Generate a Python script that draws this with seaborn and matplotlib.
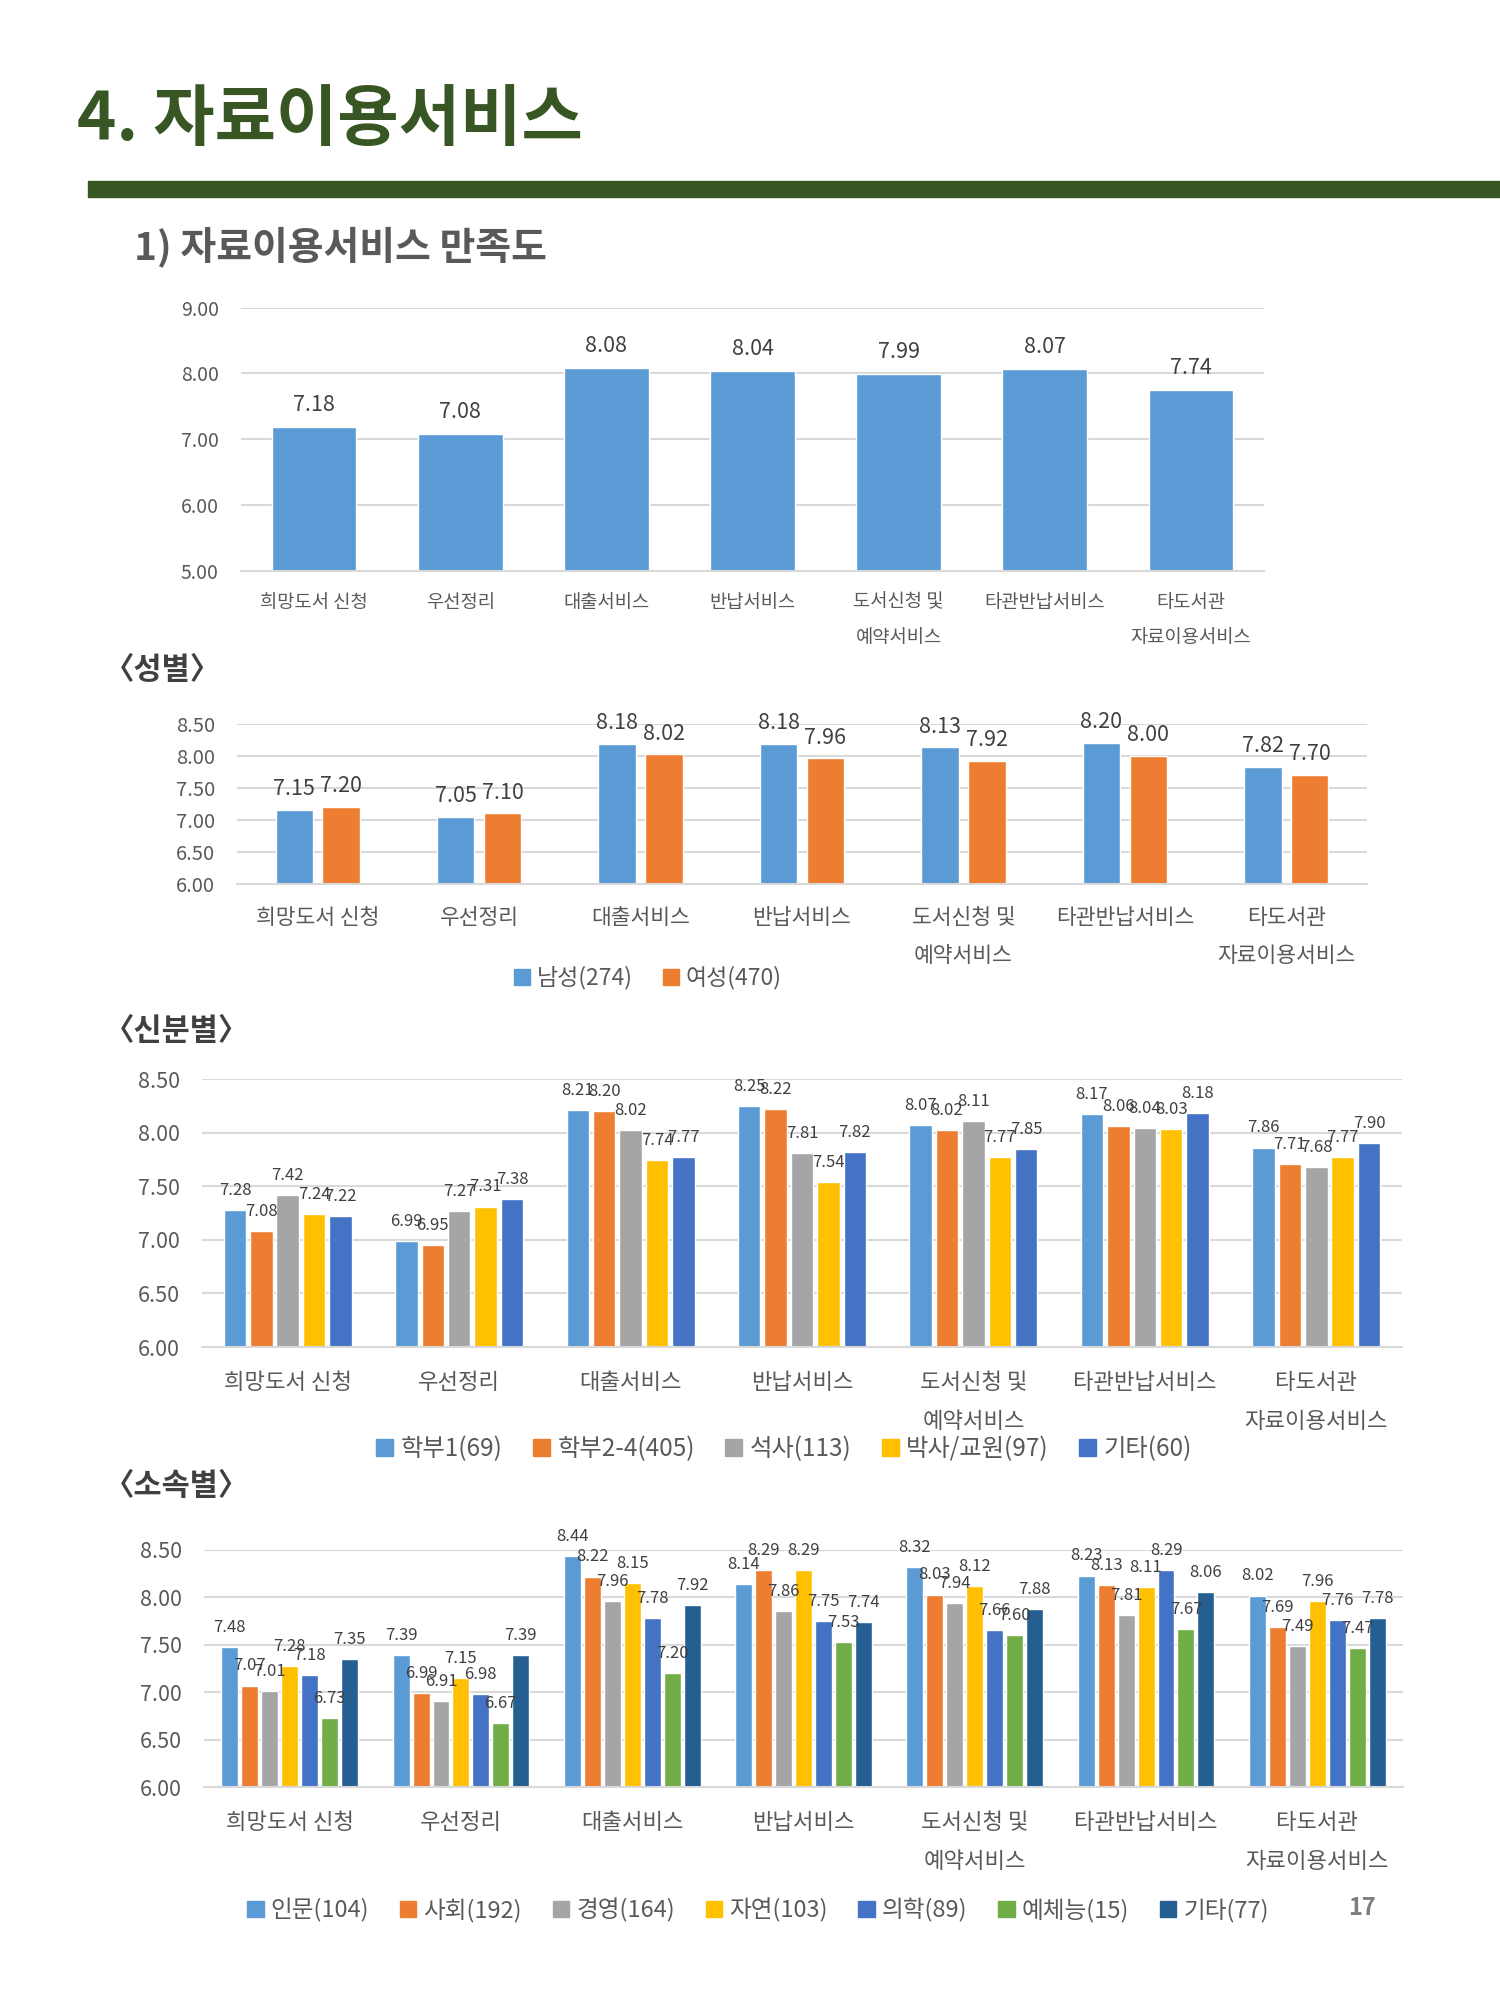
import matplotlib
matplotlib.use("Agg")
import matplotlib.pyplot as plt
from matplotlib.patches import Rectangle, Patch
import pandas as pd
import seaborn as sns

# 항목
services = ["희망도서 신청", "우선정리", "대출서비스", "반납서비스",
            "도서신청 및\n예약서비스", "타관반납서비스", "타도서관\n자료이용서비스"]

# 1) 전체 만족도
overall = [7.18, 7.08, 8.08, 8.04, 7.99, 8.07, 7.74]

# 성별
gender_groups = ["남성(274)", "여성(470)"]
gender_vals = {
    "남성(274)": [7.15, 7.05, 8.18, 8.18, 8.13, 8.20, 7.82],
    "여성(470)": [7.20, 7.10, 8.02, 7.96, 7.92, 8.00, 7.70],
}

# 신분별
status_groups = ["학부1(69)", "학부2-4(405)", "석사(113)", "박사/교원(97)", "기타(60)"]
status_vals = {
    "학부1(69)": [7.28, 6.99, 8.21, 8.25, 8.07, 8.17, 7.86],
    "학부2-4(405)": [7.08, 6.95, 8.20, 8.22, 8.02, 8.06, 7.71],
    "석사(113)": [7.42, 7.27, 8.02, 7.81, 8.11, 8.04, 7.68],
    "박사/교원(97)": [7.24, 7.31, 7.74, 7.54, 7.77, 8.03, 7.77],
    "기타(60)": [7.22, 7.38, 7.77, 7.82, 7.85, 8.18, 7.90],
}

# 소속별
dept_groups = ["인문(104)", "사회(192)", "경영(164)", "자연(103)", "의학(89)", "예체능(15)", "기타(77)"]
dept_vals = {
    "인문(104)": [7.48, 7.39, 8.44, 8.14, 8.32, 8.23, 8.02],
    "사회(192)": [7.07, 6.99, 8.22, 8.29, 8.03, 8.13, 7.69],
    "경영(164)": [7.01, 6.91, 7.96, 7.86, 7.94, 7.81, 7.49],
    "자연(103)": [7.28, 7.15, 8.15, 8.29, 8.12, 8.11, 7.96],
    "의학(89)": [7.18, 6.98, 7.78, 7.75, 7.66, 8.29, 7.76],
    "예체능(15)": [6.73, 6.67, 7.20, 7.53, 7.60, 7.67, 7.47],
    "기타(77)": [7.35, 7.39, 7.92, 7.74, 7.88, 8.06, 7.78],
}

colors = ["#5B9BD5", "#ED7D31", "#A5A5A5", "#FFC000", "#4472C4", "#70AD47", "#255E91"]

sns.set_theme(style="white")
FONT = ["Noto Sans CJK KR", "DejaVu Sans"]
plt.rcParams["font.family"] = FONT

GRID = "#D9D9D9"
TICK = "#595959"
LABEL = "#404040"


def long_df(groups, vals):
    rows = []
    for g in groups:
        for s, v in zip(services, vals[g]):
            rows.append({"항목": s, "그룹": g, "점수": v})
    return pd.DataFrame(rows)


def style_axis(ax, ylim, step, tick_fs, cat_fs, cat_pad):
    ax.set_ylim(*ylim)
    ticks = []
    t = ylim[0]
    while t <= ylim[1] + 1e-9:
        ticks.append(round(t, 2))
        t += step
    ax.set_yticks(ticks)
    ax.set_yticklabels([f"{t:.2f}" for t in ticks], fontsize=tick_fs, color=TICK)
    ax.set_xlim(-0.5, len(services) - 0.5)
    ax.set_xlabel("")
    ax.set_ylabel("")
    for sp in ["top", "left", "right"]:
        ax.spines[sp].set_visible(False)
    ax.spines["bottom"].set_color(GRID)
    ax.spines["bottom"].set_linewidth(1.5)
    ax.yaxis.grid(True, color=GRID, linewidth=1.5)
    ax.set_axisbelow(True)
    ax.tick_params(axis="y", length=0, pad=16)
    ax.tick_params(axis="x", length=0, pad=cat_pad)
    for lab in ax.get_xticklabels():
        lab.set_fontsize(cat_fs)
        lab.set_color(TICK)
        lab.set_linespacing(1.9)


def label_bars(ax, fs, pad):
    for cont in ax.containers:
        ax.bar_label(cont, fmt="%.2f", fontsize=fs, color=LABEL, padding=pad)


def add_legend(groups, center_y, center_x, fs, spacing):
    fig.legend(handles=[Patch(color=c, label=g) for c, g in zip(colors, groups)],
               loc="center", bbox_to_anchor=(center_x / 1500, 1 - center_y / 2000),
               ncol=len(groups), frameon=False, fontsize=fs, handlelength=0.7,
               handleheight=0.7, handletextpad=0.3, columnspacing=spacing, labelcolor=TICK)


fig = plt.figure(figsize=(15, 20), dpi=100)

# 제목
fig.text(77 / 1500, 1 - 121 / 2000, "4. 자료이용서비스", fontsize=48, fontweight="bold",
         color="#375623", va="center", ha="left")
fig.patches.append(Rectangle((88 / 1500, 1 - 197 / 2000), 1 - 88 / 1500, 16 / 2000,
                             transform=fig.transFigure, color="#375623", zorder=1))
fig.text(134 / 1500, 1 - 247 / 2000, "1) 자료이용서비스 만족도", fontsize=28, fontweight="bold",
         color="#595959", va="center", ha="left")

# 1) 전체
ax1 = fig.add_axes([241 / 1500, 1 - 570.7 / 2000, 1023 / 1500, 263.1 / 2000])
df1 = pd.DataFrame({"항목": services, "점수": overall})
sns.barplot(data=df1, x="항목", y="점수", color=colors[0], width=0.58, saturation=1, ax=ax1)
style_axis(ax1, (5, 9), 1, 14, 13.5, 15)
label_bars(ax1, 15.5, 8)

# 성별
fig.text(104 / 1500, 1 - 670 / 2000, "〈성별〉", fontsize=22, fontweight="bold",
         color="#404040", va="center", ha="left")
ax2 = fig.add_axes([237 / 1500, 1 - 883.7 / 2000, 1130 / 1500, 160 / 2000])
sns.barplot(data=long_df(gender_groups, gender_vals), x="항목", y="점수", hue="그룹",
            palette=colors[:2], width=0.58, gap=0.2, saturation=1, legend=False, ax=ax2)
style_axis(ax2, (6, 8.5), 0.5, 14.5, 15.5, 17)
label_bars(ax2, 15.5, 7)
add_legend(gender_groups, 978, 648, 16.5, 1.3)

# 신분별
fig.text(104 / 1500, 1 - 1031 / 2000, "〈신분별〉", fontsize=22, fontweight="bold",
         color="#404040", va="center", ha="left")
ax3 = fig.add_axes([202 / 1500, 1 - 1347 / 2000, 1200 / 1500, 268 / 2000])
sns.barplot(data=long_df(status_groups, status_vals), x="항목", y="점수", hue="그룹",
            palette=colors[:5], width=0.77, gap=0.15, saturation=1, legend=False, ax=ax3)
style_axis(ax3, (6, 8.5), 0.5, 15.5, 16, 17)
label_bars(ax3, 12, 8)
add_legend(status_groups, 1449, 784, 17.5, 1.25)

# 소속별
fig.text(104 / 1500, 1 - 1486 / 2000, "〈소속별〉", fontsize=22, fontweight="bold",
         color="#404040", va="center", ha="left")
ax4 = fig.add_axes([204 / 1500, 1 - 1787 / 2000, 1199 / 1500, 237 / 2000])
sns.barplot(data=long_df(dept_groups, dept_vals), x="항목", y="점수", hue="그룹",
            palette=colors, width=0.815, gap=0.15, saturation=1, legend=False, ax=ax4)
style_axis(ax4, (6, 8.5), 0.5, 15.5, 16, 17)
label_bars(ax4, 12, 8)
add_legend(dept_groups, 1910, 758, 17, 1.3)

fig.text(1362 / 1500, 1 - 1908 / 2000, "17", fontsize=17, fontweight="bold",
         color="#7F7F7F", va="center", ha="center")

fig.savefig("out.png", dpi=100, facecolor="white")
